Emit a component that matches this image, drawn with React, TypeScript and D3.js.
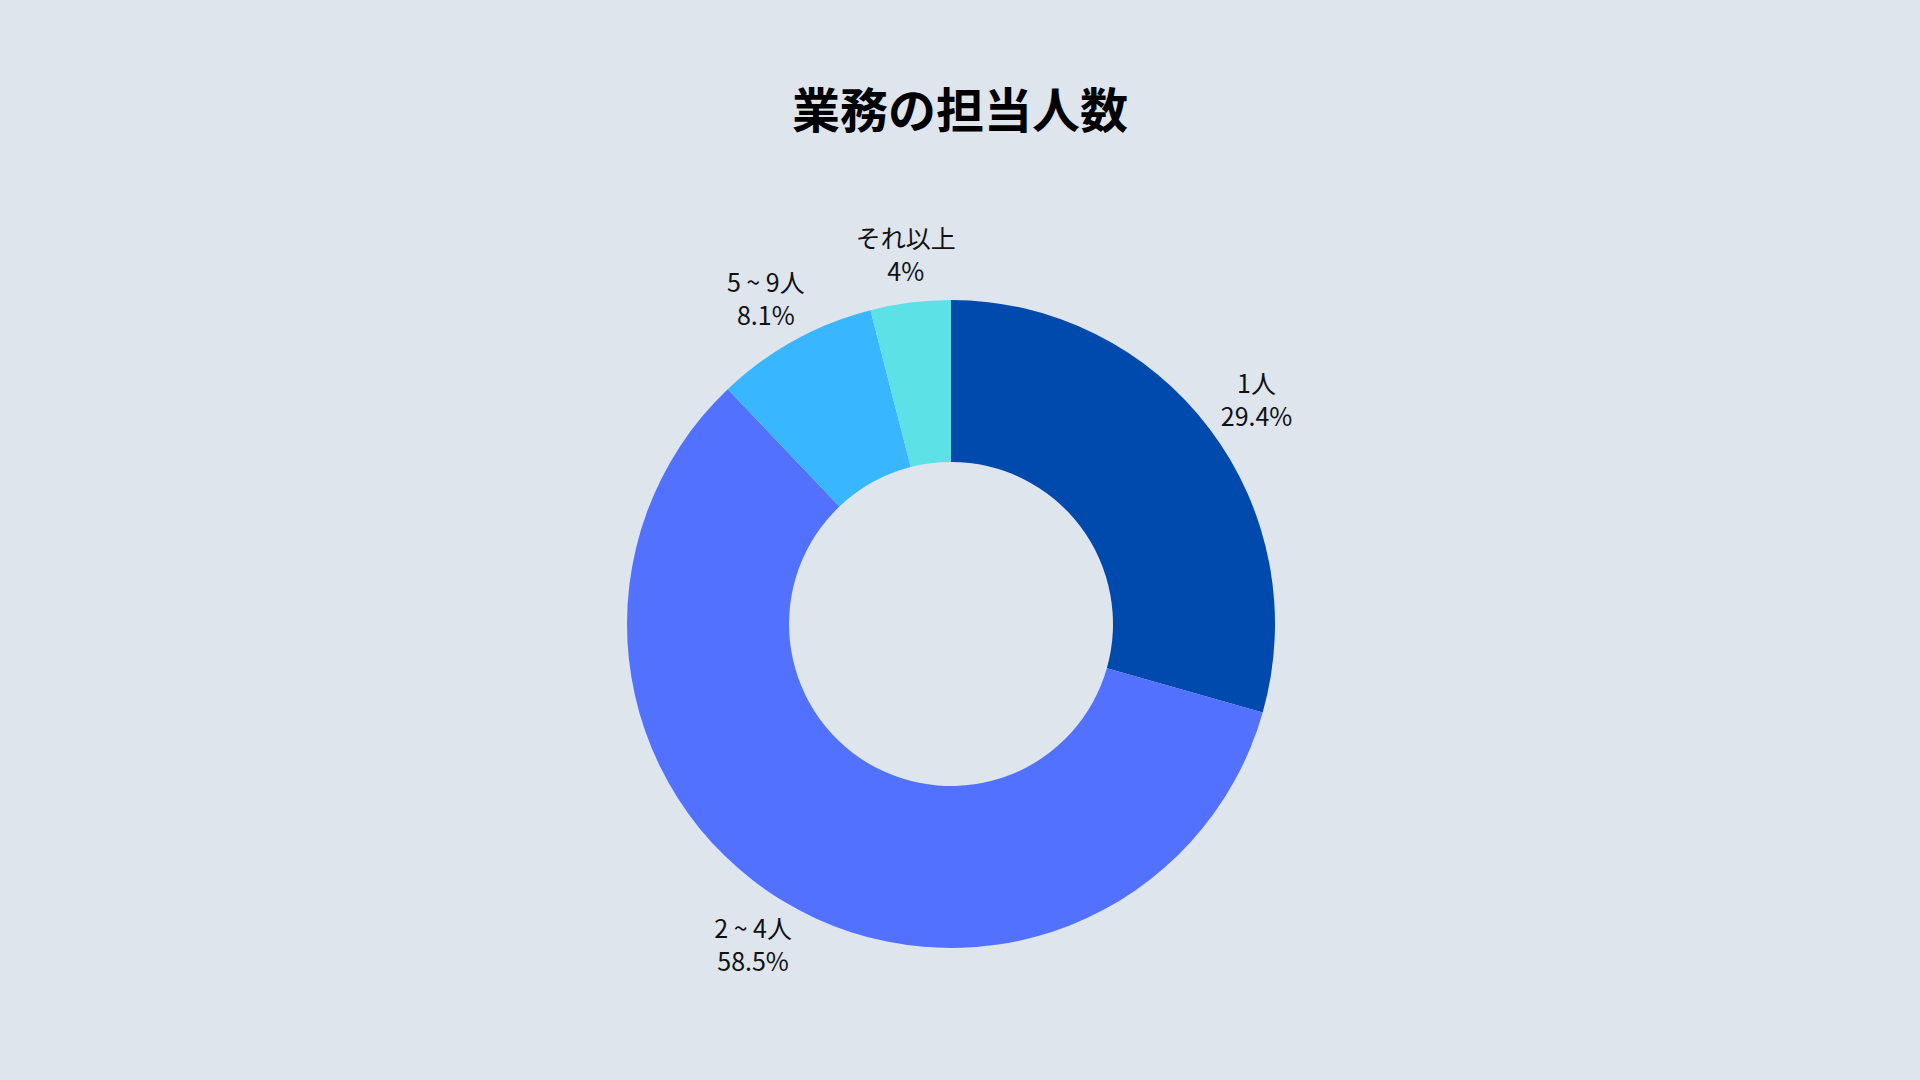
import { useEffect } from 'react';
import * as d3 from 'd3';

const TITLE = '業務の担当人数';
const CATEGORIES = ['1人', '2 ~ 4人', '5 ~ 9人', 'それ以上'];
const VALUES = [29.4, 58.5, 8.1, 4];
const VALUE_LABELS = ['29.4%', '58.5%', '8.1%', '4%'];
const COLORS = ['#004aad', '#5271ff', '#38b6ff', '#5ce1e6'];

const WIDTH = 1920;
const HEIGHT = 1080;
const FONT = '"Noto Sans CJK JP", "Noto Sans", sans-serif';

// rough text width: full-width glyphs take 1em, the rest about 0.55em
const textWidth = (s: string, size: number) =>
  Array.from(s).reduce((w, ch) => w + (ch.charCodeAt(0) > 0x2e80 ? size : size * 0.56), 0);

export default function App() {
  useEffect(() => {
    document.body.style.margin = '0';
  }, []);

  const cx = WIDTH / 2 - 9;
  const cy = 624;
  const outerR = 324;
  const innerR = 162;
  const labelSize = 25;
  const lineGap = 33;

  const pie = d3.pie<number>().sort(null).value(d => d);
  const arcs = pie(VALUES);
  const arc = d3.arc<d3.PieArcDatum<number>>().innerRadius(innerR).outerRadius(outerR);

  return (
    <svg width={WIDTH} height={HEIGHT} style={{ display: 'block', background: '#dee5ed' }}>
      <rect width={WIDTH} height={HEIGHT} fill="#dee5ed" />
      <text
        x={cx + 9}
        y={107}
        textAnchor="middle"
        dominantBaseline="central"
        fontFamily={FONT}
        fontWeight={700}
        fontSize={48}
        fill="#000"
      >
        {TITLE}
      </text>
      <g transform={`translate(${cx},${cy})`}>
        {arcs.map((a, i) => (
          <path key={CATEGORIES[i]} d={arc(a) ?? ''} fill={COLORS[i]} />
        ))}
        {arcs.map((a, i) => {
          const mid = (a.startAngle + a.endAngle) / 2;
          const r = outerR + 19;
          const ax = r * Math.sin(mid);
          const ay = -r * Math.cos(mid);
          const halfW = Math.max(textWidth(CATEGORIES[i], labelSize), textWidth(VALUE_LABELS[i], labelSize)) / 2;
          const halfH = lineGap * 0.92;
          const bx = ax + halfW * Math.sin(mid) + 4;
          const by = ay - halfH * Math.cos(mid);
          return (
            <text
              key={`l-${CATEGORIES[i]}`}
              textAnchor="middle"
              fontFamily={FONT}
              fontSize={labelSize}
              fill="#111"
            >
              <tspan x={bx} y={by - lineGap / 2} dominantBaseline="central">{CATEGORIES[i]}</tspan>
              <tspan x={bx} y={by + lineGap / 2} dominantBaseline="central">{VALUE_LABELS[i]}</tspan>
            </text>
          );
        })}
      </g>
    </svg>
  );
}
